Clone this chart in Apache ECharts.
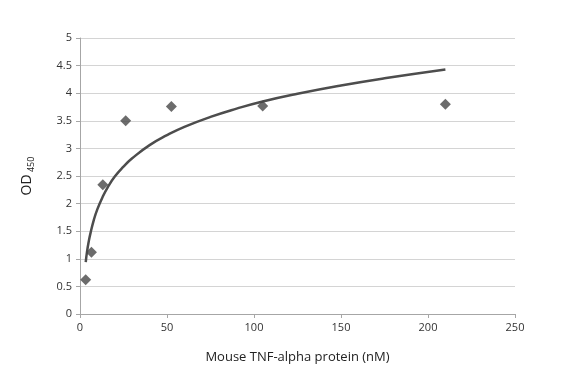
<!DOCTYPE html>
<html><head><meta charset="utf-8">
<script src="https://cdn.jsdelivr.net/npm/echarts@6/dist/echarts.min.js"></script>
<style>html,body{margin:0;padding:0;background:#fff}#c{width:582px;height:382px}</style>
</head><body><div id="c"></div>
<script>
var pointX = [3.28, 6.56, 13.1, 26.25, 52.5, 105, 210];
var pointY = [0.62, 1.12, 2.34, 3.50, 3.76, 3.77, 3.80];
var curveX = [3.3, 4, 5, 6, 8, 10, 13, 16, 20, 25, 30, 40, 50, 60, 75, 90, 105, 125, 150, 175, 210];
var curveY = [0.94, 1.12, 1.31, 1.46, 1.71, 1.90, 2.12, 2.30, 2.49, 2.67, 2.82, 3.06, 3.24, 3.39, 3.57, 3.72, 3.85, 3.99, 4.14, 4.27, 4.43];
var xTicks = [0, 50, 100, 150, 200, 250];
var yTicks = [0, 0.5, 1, 1.5, 2, 2.5, 3, 3.5, 4, 4.5, 5];

var font = '"Open Sans", "Liberation Sans", sans-serif';
var chart = echarts.init(document.getElementById('c'), null, {renderer: 'canvas'});
chart.setOption({
  animation: false,
  grid: {left: 80, right: 67, top: 38, bottom: 68, containLabel: false},
  xAxis: {
    type: 'value', min: xTicks[0], max: xTicks[xTicks.length - 1], interval: 50,
    name: 'Mouse TNF-alpha protein (nM)', nameLocation: 'middle', nameGap: 37,
    nameTextStyle: {fontFamily: font, fontSize: 13, color: '#222'},
    axisLine: {lineStyle: {color: '#a6a6a6', width: 1}},
    axisTick: {show: true, length: 4, lineStyle: {color: '#a6a6a6'}},
    axisLabel: {fontFamily: font, fontSize: 11, color: '#333', margin: 8},
    splitLine: {show: false}
  },
  yAxis: {
    type: 'value', min: yTicks[0], max: yTicks[yTicks.length - 1], interval: 0.5,
    name: '{a|OD}{b| 450}', nameLocation: 'middle', nameGap: 46, nameRotate: 90,
    nameTextStyle: {rich: {
      a: {fontFamily: font, fontSize: 14, color: '#222'},
      b: {fontFamily: font, fontSize: 9, color: '#222', padding: [0, 0, -8, 0]}
    }},
    axisLine: {show: true, lineStyle: {color: '#a6a6a6', width: 1}},
    axisTick: {show: true, length: 4, lineStyle: {color: '#a6a6a6'}},
    axisLabel: {fontFamily: font, fontSize: 11, color: '#333', margin: 8},
    splitLine: {show: true, lineStyle: {color: '#d4d4d4', width: 1}}
  },
  series: [
    {
      type: 'line', data: curveX.map(function (x, i) { return [x, curveY[i]]; }),
      smooth: true, showSymbol: false, symbol: 'none',
      lineStyle: {color: '#4d4d4d', width: 2.5}, z: 2
    },
    {
      type: 'scatter', data: pointX.map(function (x, i) { return [x, pointY[i]]; }),
      symbol: 'diamond', symbolSize: [11, 11],
      itemStyle: {color: '#474747'}, z: 3
    }
  ]
});
</script></body></html>
